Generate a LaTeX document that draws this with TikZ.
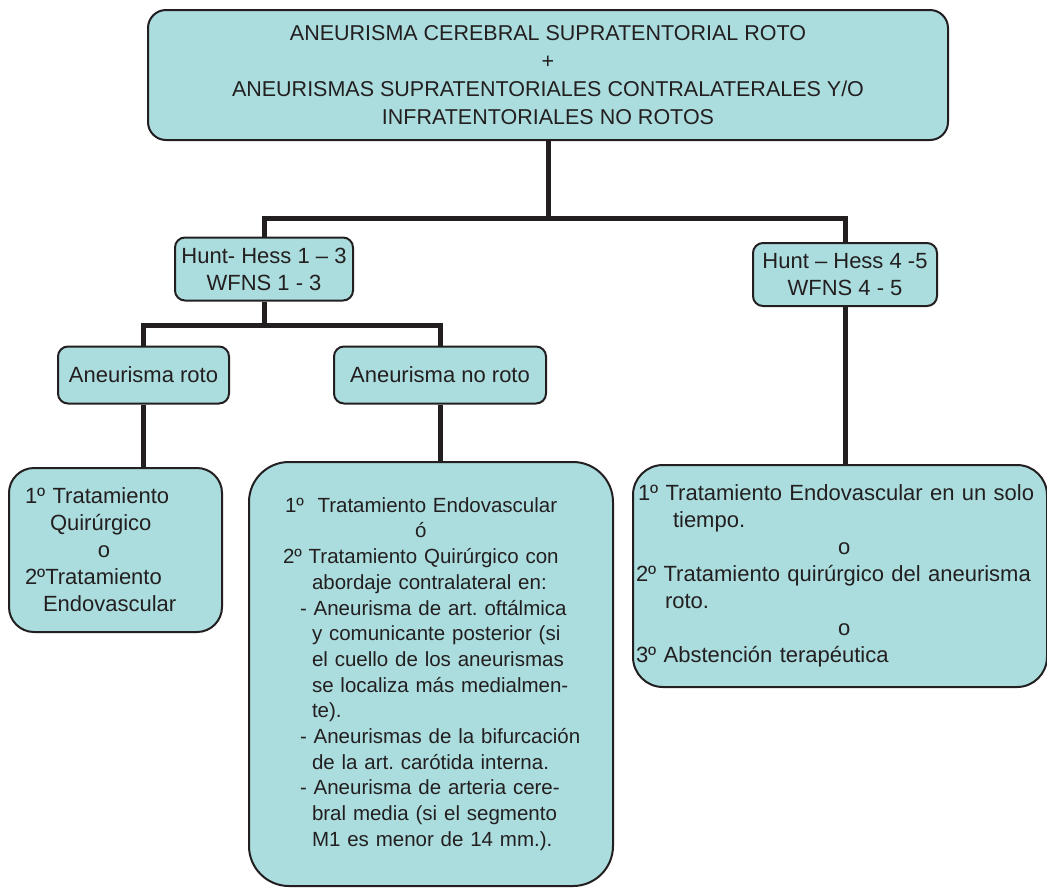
\documentclass[tikz,border=0pt]{standalone}
\usepackage{fontspec}
\setmainfont{Liberation Sans}
\definecolor{boxfill}{RGB}{171,221,222}
\definecolor{ink}{RGB}{35,31,32}
\frenchspacing
\begin{document}
\frenchspacing
\begin{tikzpicture}[x=1pt,y=-1pt,
  box/.style={draw=ink, line width=2pt, fill=boxfill, rounded corners=#1, inner sep=0pt, text=ink,
    font=\fontsize{22}{27}\selectfont},
  box/.default=10,
  conn/.style={draw=ink, line width=5pt}]
\useasboundingbox (0,0) rectangle (1047,887);

\node[box=18, minimum width=800, minimum height=130, align=center,
  font=\fontsize{21.5}{28}\selectfont] (top) at (548,75)
  {ANEURISMA CEREBRAL SUPRATENTORIAL ROTO\\+\\ANEURISMAS SUPRATENTORIALES CONTRALATERALES Y/O\\INFRATENTORIALES NO ROTOS};

\node[box=10, minimum width=178, minimum height=63, align=center] (h1) at (264,269)
  {Hunt- Hess 1 – 3\\WFNS 1 - 3};
\node[box=10, minimum width=184, minimum height=63, align=center] (h2) at (845,274.5)
  {Hunt – Hess 4 -5\\WFNS 4 - 5};

\node[box=10, minimum width=171, minimum height=57] (ar) at (143.5,375) {Aneurisma roto};
\node[box=10, minimum width=212, minimum height=57] (anr) at (440,375) {Aneurisma no roto};

\node[box=25, minimum width=213, minimum height=164, text width=181, align=left] (lb) at (115.5,550)
  {\mbox{1º Tratamiento}\\
   \mbox{\hspace*{25pt}Quirúrgico}\\
   \mbox{\hspace*{73pt}o}\\
   \mbox{2ºTratamiento}\\
   \mbox{\hspace*{18pt}Endovascular}};

\node[box=40, minimum width=364, minimum height=424, text width=296, align=left,
  font=\fontsize{20.5}{25.7}\selectfont] (mb) at (431,674)
  {\mbox{\hspace*{2pt}1º\ \ Tratamiento Endovascular}\\
   \mbox{\hspace*{132pt}ó}\\
   \mbox{2º Tratamiento Quirúrgico con}\\
   \mbox{\hspace*{29pt}abordaje contralateral en:}\\
   \mbox{\hspace*{17pt}- Aneurisma de art. oftálmica}\\
   \mbox{\hspace*{29pt}y comunicante posterior (si}\\
   \mbox{\hspace*{29pt}el cuello de los aneurismas}\\
   \mbox{\hspace*{29pt}se localiza más medialmen-}\\
   \mbox{\hspace*{29pt}te).}\\
   \mbox{\hspace*{17pt}- Aneurismas de la bifurcación}\\
   \mbox{\hspace*{29pt}de la art. carótida interna.}\\
   \mbox{\hspace*{17pt}- Aneurisma de arteria cere-}\\
   \mbox{\hspace*{29pt}bral media (si el segmento}\\
   \mbox{\hspace*{29pt}M1 es menor de 14 mm.).}};

\node[box=30, minimum width=414, minimum height=222, text width=408, align=left] (rb) at (840,576)
  {\mbox{\hspace*{2pt}1º Tratamiento Endovascular en un solo}\\
   \mbox{\hspace*{37pt}tiempo.}\\
   \mbox{\hspace*{202pt}o}\\
   \mbox{2º Tratamiento quirúrgico del aneurisma}\\
   \mbox{\hspace*{29pt}roto.}\\
   \mbox{\hspace*{202pt}o}\\
   \mbox{3º Abstención terapéutica}};

\coordinate (bus1) at (548,218);
\coordinate (bus2) at (264,325);

\draw[conn] (top.south) -- (top.south |- bus1);
\draw[conn] (h1.north) |- (bus1) -| (h2.north);
\draw[conn] (h1.south) -- (bus2);
\draw[conn] (ar.north) |- (bus2) -| (anr.north);
\draw[conn] (ar.south) -- (ar.south |- lb.north);
\draw[conn] (anr.south) -- (anr.south |- mb.north);
\draw[conn] (h2.south) -- (h2.south |- rb.north);
\end{tikzpicture}
\end{document}
